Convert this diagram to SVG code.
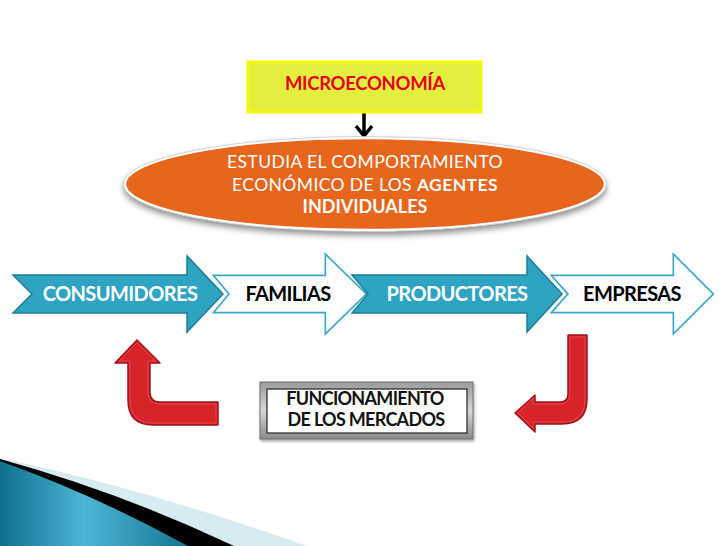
<svg xmlns="http://www.w3.org/2000/svg" width="728" height="546" viewBox="0 0 728 546">
<defs>
<style>
.t{font-family:Lato,"Liberation Sans",sans-serif}
.b{font-weight:bold}
.lbl{font-size:20px;letter-spacing:-0.6px;font-weight:bold}
.teal{fill:#2fa3c2;stroke:#1d7d97;stroke-width:1.5;stroke-linejoin:miter}
.wout{fill:#fff;stroke:#3aa9c6;stroke-width:5;stroke-linejoin:miter}
.win{fill:#fff;stroke:#fff;stroke-width:1.6;stroke-linejoin:miter}
.red{fill:#d8232b;stroke:#9e161c;stroke-width:1.5;stroke-linejoin:round}
.redin{fill:none;stroke:#e8454b;stroke-width:1;stroke-linejoin:round}
</style>
<linearGradient id="swg" x1="0" y1="0" x2="1" y2="0">
<stop offset="0" stop-color="#0e6f8e"/>
<stop offset="0.45" stop-color="#4db6d6"/>
<stop offset="1" stop-color="#127591"/>
</linearGradient>
<linearGradient id="frame" x1="0" y1="0" x2="0" y2="1">
<stop offset="0" stop-color="#9a9a9a"/>
<stop offset="0.5" stop-color="#d8d8d8"/>
<stop offset="1" stop-color="#8a8a8a"/>
</linearGradient>
<filter id="sh" x="-10%" y="-20%" width="120%" height="160%">
<feDropShadow dx="0" dy="4" stdDeviation="3" flood-color="#000" flood-opacity="0.45"/>
</filter>
<filter id="sh2" x="-10%" y="-20%" width="120%" height="160%">
<feDropShadow dx="1" dy="2" stdDeviation="1.5" flood-color="#000" flood-opacity="0.35"/>
</filter>
</defs>
<rect width="728" height="546" fill="#fff"/>

<g id="swoosh">
<path d="M0,458 Q150,490 307,546 L0,546 Z" fill="#d6ebf2"/>
<path d="M0,459 Q120,492 234,546 L0,546 Z" fill="#000"/>
<path d="M0,461 Q95,495 188,546 L0,546 Z" fill="url(#swg)"/>
</g>

<g id="connectors">
<path d="M364,113 L364,136 M356,126 L364,136 L372,126" fill="none" stroke="#000" stroke-width="3.5" stroke-linecap="butt" stroke-linejoin="miter"/>
</g>

<g id="microeconomia">
<rect x="248" y="62" width="233" height="50" fill="#e2ef3f" stroke="#f7f700" stroke-width="3"/>
<text class="t b" x="365" y="90" font-size="18.5" fill="#e6001e" text-anchor="middle" letter-spacing="-0.3">MICROECONOMÍA</text>
</g>

<g id="estudia">
<ellipse cx="365" cy="184" rx="240" ry="46" fill="#e8651f" stroke="#fff" stroke-width="2.5" filter="url(#sh)"/>
<ellipse cx="365" cy="184" rx="241.5" ry="47.5" fill="none" stroke="#c9c9c9" stroke-width="0.8"/>
<text class="t" x="365" y="168" font-size="17.5" fill="#fff" text-anchor="middle" letter-spacing="0.4">ESTUDIA EL COMPORTAMIENTO</text>
<text class="t" x="365" y="191" font-size="17.5" fill="#fff" text-anchor="middle" letter-spacing="0.4">ECONÓMICO DE LOS <tspan class="b">AGENTES</tspan></text>
<text class="t b" x="365" y="213" font-size="18" fill="#fff" text-anchor="middle">INDIVIDUALES</text>
</g>

<g id="consumidores">
<path class="teal" d="M13,275 L187,275 L187,256 L223,294 L187,332 L187,313 L13,313 L32,294 Z"/>
<text class="t lbl" x="120" y="301" fill="#fff" text-anchor="middle">CONSUMIDORES</text>
</g>

<g id="familias">
<path class="wout" d="M217,277 L327,277 L327,258 L364,294 L327,330 L327,311 L217,311 L231,294 Z"/>
<path class="win" d="M217,277 L327,277 L327,258 L364,294 L327,330 L327,311 L217,311 L231,294 Z"/>
<text class="t lbl" x="288" y="301" fill="#000" text-anchor="middle">FAMILIAS</text>
</g>

<g id="productores">
<path class="teal" d="M352,275 L527,275 L527,256 L562,294 L527,332 L527,313 L352,313 L368,294 Z"/>
<text class="t lbl" x="457" y="301" fill="#fff" text-anchor="middle">PRODUCTORES</text>
</g>

<g id="empresas">
<path class="wout" d="M555,277 L675,277 L675,258 L711,294 L675,330 L675,311 L555,311 L570,294 Z"/>
<path class="win" d="M555,277 L675,277 L675,258 L711,294 L675,330 L675,311 L555,311 L570,294 Z"/>
<text class="t lbl" x="632" y="301" fill="#000" text-anchor="middle">EMPRESAS</text>
</g>

<g id="flecha-izq">
<path class="red" d="M137,340 L160,363 L150,363 L150,392 Q150,402 160,402 L218,402 L218,425 L153,425 Q128,425 128,400 L128,363 L115,363 Z"/>
<path class="redin" d="M137,343 L156,361 L148,361 L148,392 Q148,404 160,404 L216,404 L216,423 L153,423 Q130,423 130,400 L130,361 L119,361 Z"/>
</g>

<g id="flecha-der">
<path class="red" d="M568,335 L587,335 L587,399 Q587,424 562,424 L535,424 L535,432 L515,413 L535,395 L535,402 L560,402 Q568,402 568,394 Z"/>
<path class="redin" d="M570,337 L585,337 L585,399 Q585,422 562,422 L533,422 L533,428 L518,413 L533,398 L533,404 L560,404 Q570,404 570,394 Z"/>
</g>

<g id="funcionamiento">
<rect x="260" y="382" width="213" height="57" fill="url(#frame)" stroke="#6f6f6f" stroke-width="1" filter="url(#sh2)"/>
<rect x="267" y="389" width="200" height="44" fill="#fff" stroke="#222" stroke-width="1.2"/>
<text class="t b" x="365" y="405" font-size="18" fill="#111" text-anchor="middle" letter-spacing="-0.7">FUNCIONAMIENTO</text>
<text class="t b" x="366" y="426" font-size="18" fill="#111" text-anchor="middle" letter-spacing="-0.7">DE LOS MERCADOS</text>
</g>
</svg>
